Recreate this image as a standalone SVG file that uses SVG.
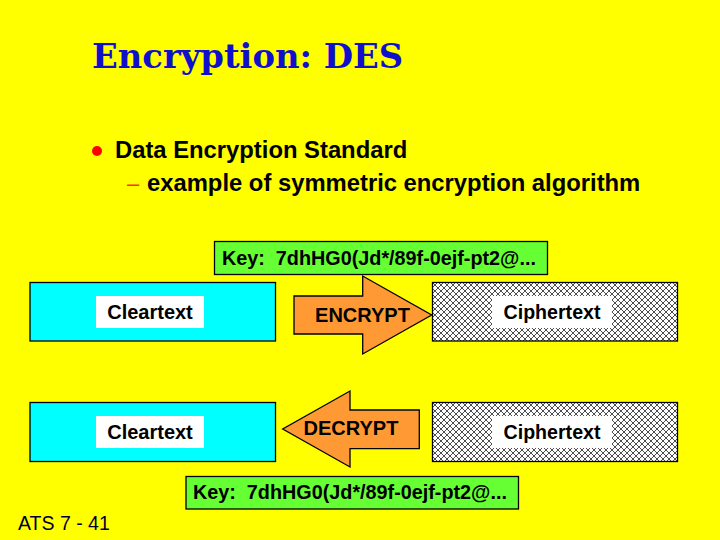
<svg xmlns="http://www.w3.org/2000/svg" width="720" height="540" viewBox="0 0 720 540">
<defs>
<pattern id="hatch" patternUnits="userSpaceOnUse" width="6" height="6">
<rect width="6" height="6" fill="#ffffff"/>
<path d="M0,0 L6,6 M6,0 L0,6" stroke="#000" stroke-width="0.7"/>
</pattern>
<style>
.box{stroke:#000;stroke-width:1.3}
.clear{fill:#00ffff}
.cipher{fill:url(#hatch)}
.key{fill:#66ff33}
.arrow{fill:#ff9933;stroke:#000;stroke-width:1.3}
.lbl{fill:#fff}
.t{font-family:"Liberation Sans",Arial,sans-serif;font-weight:bold;fill:#000}
</style>
</defs>
<rect width="720" height="540" fill="#ffff00"/>
<text x="92" y="68" font-family="'DejaVu Serif','Liberation Serif',serif" font-weight="bold" font-size="33.8" fill="#1010cc">Encryption: DES</text>
<circle cx="97" cy="151" r="5" fill="#ff0000"/>
<text class="t" x="115" y="158" font-size="23.8">Data Encryption Standard</text>
<text x="127" y="191" font-family="'Liberation Sans',Arial,sans-serif" font-size="22" fill="#ff3300">–</text>
<text class="t" x="147" y="191" font-size="23.8">example of symmetric encryption algorithm</text>

<g id="key1">
<rect class="box key" x="214.5" y="241.5" width="333" height="33"/>
<text class="t" x="222" y="265" font-size="19.8" xml:space="preserve">Key:  7dhHG0(Jd*/89f-0ejf-pt2@...</text>
</g>
<g id="clear1">
<rect class="box clear" x="30" y="282.5" width="245.5" height="58.5"/>
<rect class="lbl" x="96" y="296" width="108" height="32"/>
<text class="t" x="150" y="319" font-size="20" text-anchor="middle">Cleartext</text>
</g>
<g id="encrypt">
<polygon class="arrow" points="294,296 362.7,296 362.7,276 431.7,315 362.7,354 362.7,334 294,334"/>
<text class="t" x="362.5" y="322" font-size="20" text-anchor="middle">ENCRYPT</text>
</g>
<g id="cipher1">
<rect class="box cipher" x="432.5" y="282.5" width="245" height="58.5"/>
<rect class="lbl" x="492" y="296" width="120" height="32"/>
<text class="t" x="552" y="319" font-size="19.6" text-anchor="middle">Ciphertext</text>
</g>

<g id="clear2">
<rect class="box clear" x="30" y="402.5" width="245.5" height="59"/>
<rect class="lbl" x="96" y="416" width="108" height="32"/>
<text class="t" x="150" y="439" font-size="20" text-anchor="middle">Cleartext</text>
</g>
<g id="decrypt">
<polygon class="arrow" points="419.3,410 350,410 350,391 282.7,429 350,467 350,448.7 419.3,448.7"/>
<text class="t" x="351" y="435" font-size="20" text-anchor="middle">DECRYPT</text>
</g>
<g id="cipher2">
<rect class="box cipher" x="432.5" y="402.5" width="245" height="59"/>
<rect class="lbl" x="492" y="416" width="120" height="32"/>
<text class="t" x="552" y="439" font-size="19.6" text-anchor="middle">Ciphertext</text>
</g>
<g id="key2">
<rect class="box key" x="186" y="476.5" width="332.5" height="32.5"/>
<text class="t" x="193" y="499" font-size="19.8" xml:space="preserve">Key:  7dhHG0(Jd*/89f-0ejf-pt2@...</text>
</g>
<g id="connectors"></g>
<text x="18" y="530" font-family="'Liberation Sans',Arial,sans-serif" font-size="19.5" fill="#000033">ATS 7 - 41</text>
</svg>
